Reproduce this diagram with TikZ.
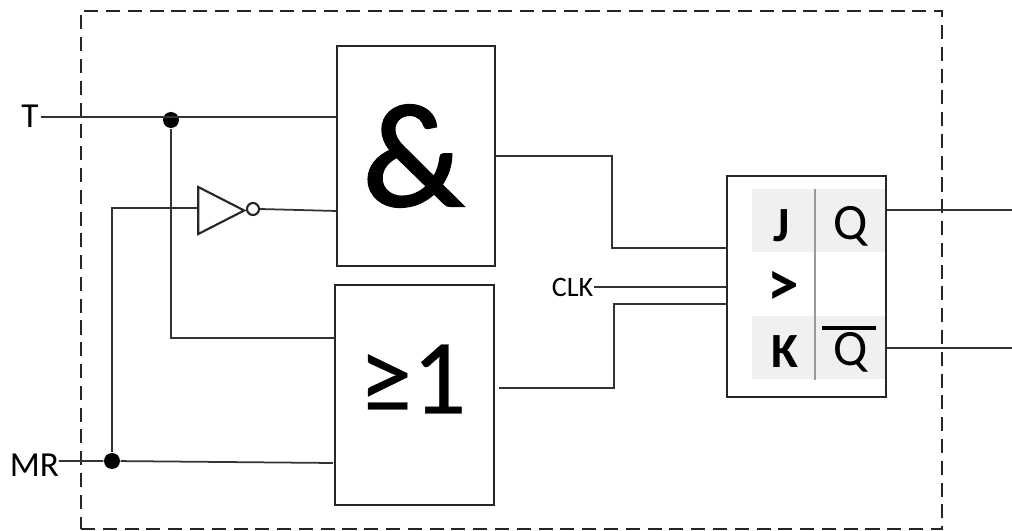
\documentclass[tikz,border=0pt]{standalone}
\usepackage{fontspec}
\setmainfont{Carlito}
\newfontfamily\heavyfont[FakeBold=1.6]{Carlito}
\newfontfamily\halffont[FakeBold=0.35]{Carlito}
\usetikzlibrary{shapes.geometric}
\tikzset{
  wire/.style={draw=black!80,line width=0.5pt},
  gatebox/.style={draw=black!85,line width=0.75pt,rectangle,inner sep=0pt},
  junction/.style={circle,fill=black,inner sep=0pt,minimum size=0.16cm},
  cell/.style={fill=black!6,draw=none,rectangle,inner sep=0pt,minimum width=1.33cm,minimum height=0.63cm},
  pinlabel/.style={inner sep=0pt,font=\fontsize{14.5}{15}\selectfont},
  pinbold/.style={inner sep=0pt,font=\bfseries\fontsize{14}{15}\selectfont},
}
\begin{document}
\begin{tikzpicture}[font=\fontsize{10}{12}\selectfont]
\useasboundingbox (0,0) rectangle (10.12,-5.31);

\node[gatebox,dashed,dash pattern=on 4pt off 2.2pt,minimum width=8.61cm,minimum height=5.18cm] (border) at (5.115,-2.70) {};

\node[gatebox,minimum width=1.58cm,minimum height=2.20cm] (andbox) at (4.16,-1.56) {};
\node[inner sep=0pt,font=\heavyfont\fontsize{42}{44}\selectfont] (andsign) at (4.13,-1.56) {\&};
\node[gatebox,minimum width=1.59cm,minimum height=2.20cm] (orbox) at (4.145,-3.95) {};
\node[inner sep=0pt,font=\halffont\fontsize{30.5}{32}\selectfont] (orsign) at (4.125,-3.79) {≥1};

\node[isosceles triangle,isosceles triangle stretches,draw=black!85,line width=0.6pt,inner sep=0pt,minimum width=0.47cm,minimum height=0.46cm,anchor=apex] (inverter) at (2.47,-2.105) {};
\node[circle,draw=black!85,line width=0.6pt,fill=white,inner sep=0pt,minimum size=0.12cm] (bubble) at (2.53,-2.09) {};

\node[gatebox,minimum width=1.59cm,minimum height=2.21cm] (flipflop) at (8.065,-2.865) {};
\begin{scope}[xshift=7.27cm,yshift=-1.76cm]
\node[cell] (cellj) at (0.915,-0.445) {};
\node[cell] (cellk) at (0.915,-1.72) {};
\coordinate (dividertop) at (0.88,-0.13);
\coordinate (dividerbot) at (0.88,-2.04);
\draw[black!40,line width=0.6pt] (dividertop) -- (dividerbot);
\node[pinbold] (pinj) at (0.55,-0.50) {J};
\node[pinbold,font=\bfseries\fontsize{18}{18}\selectfont] (pinclk) at (0.56,-1.12) {>};
\node[pinbold] (pink) at (0.58,-1.76) {K};
\node[pinlabel] (pinq) at (1.24,-0.50) {Q};
\node[pinlabel] (pinqbar) at (1.24,-1.76) {Q};
\coordinate (barleft) at (0.95,-1.52);
\coordinate (barright) at (1.49,-1.52);
\draw[black,line width=1.1pt] (barleft) -- (barright);
\end{scope}

\node[inner sep=0pt] (t) at (0.30,-1.16) {T};
\node[inner sep=0pt] (mr) at (0.345,-4.65) {MR};
\node[inner sep=0pt,font=\fontsize{8}{9}\selectfont] (clk) at (5.725,-2.87) {CLK};

\node[junction] (dott) at (1.71,-1.20) {};
\node[junction] (dotmr) at (1.12,-4.61) {};

\coordinate (tstart) at (0.41,-1.17);
\coordinate (mrstart) at (0.59,-4.61);
\coordinate (mrend) at (3.33,-4.63);
\coordinate (orin) at (3.35,-3.38);
\coordinate (invturn) at (1.12,-2.08);
\coordinate (bubbleend) at (3.37,-2.11);
\coordinate (andout) at (4.96,-1.56);
\coordinate (andbend) at (6.12,-1.56);
\coordinate (jin) at (7.27,-2.48);
\coordinate (orout) at (4.99,-3.88);
\coordinate (orbend) at (6.14,-3.88);
\coordinate (kin) at (7.27,-3.04);
\coordinate (qstart) at (8.87,-2.10);
\coordinate (qend) at (10.12,-2.10);
\coordinate (qbarstart) at (8.87,-3.48);
\coordinate (qbarend) at (10.12,-3.48);

\draw[wire] (tstart) -- (andbox.west |- tstart);
\draw[wire] (dott) |- (orin);
\draw[wire] (mrstart) -- (dotmr) -- (mrend);
\draw[wire] (dotmr) |- (inverter.west |- invturn);
\draw[wire] (bubble.east) -- (bubbleend);
\draw[wire] (andout) -- (andbend) |- (jin);
\draw[wire] (clk.east) -- (flipflop.west |- clk.east);
\draw[wire] (orout) -- (orbend) |- (kin);
\draw[wire] (qstart) -- (qend);
\draw[wire] (qbarstart) -- (qbarend);

\end{tikzpicture}
\end{document}
